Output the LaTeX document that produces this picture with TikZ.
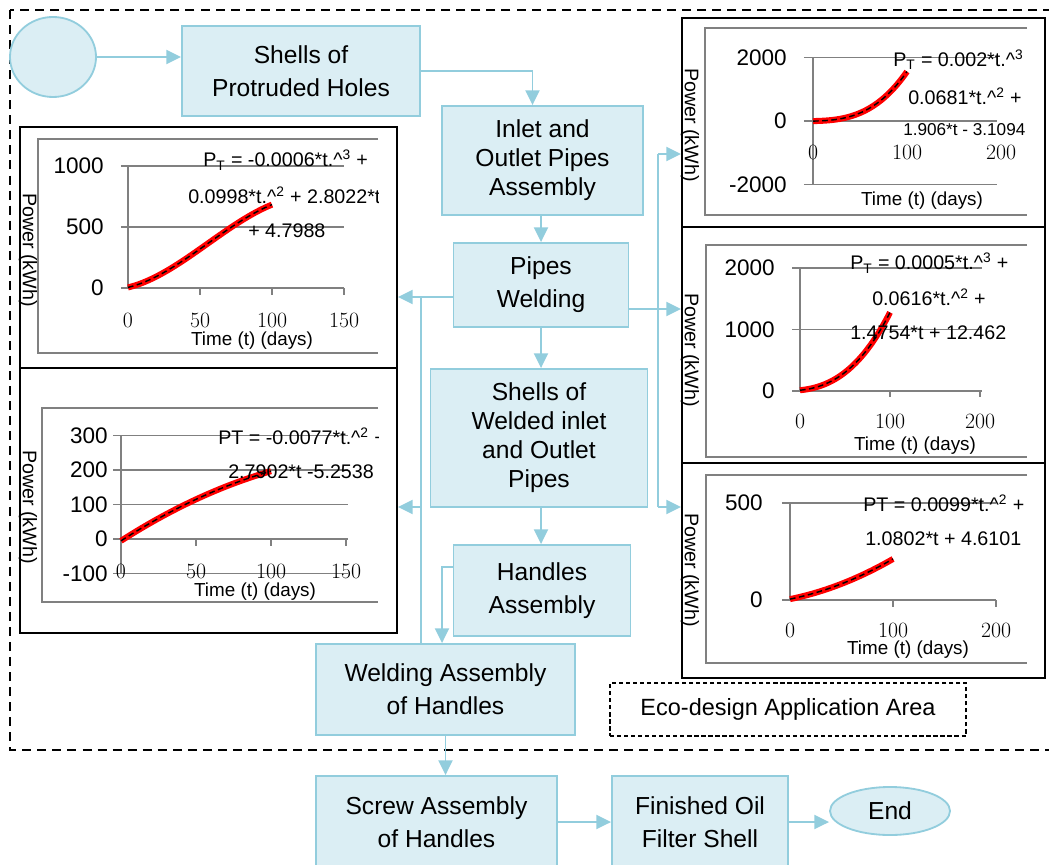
\documentclass[tikz,border=0pt]{standalone}
\usepackage{fontspec}
\setsansfont{Liberation Sans}
\renewcommand{\familydefault}{\sfdefault}
\usetikzlibrary{arrows.meta,shapes.geometric}

\definecolor{boxfill}{RGB}{219,238,244}
\definecolor{boxline}{RGB}{146,205,221}
\definecolor{gridgray}{RGB}{128,128,128}

\newcommand{\boxfont}{\fontsize{17.5}{20.6}\selectfont}
\newcommand{\ecofont}{\fontsize{16.7}{18}\selectfont}
\newcommand{\tickfont}{\fontsize{16}{16}\selectfont}
\newcommand{\eqfont}{\fontsize{14}{14}\selectfont}
\newcommand{\axfont}{\fontsize{13.4}{14}\selectfont}
\newcommand{\numfont}{\rmfamily\fontsize{15.5}{15.5}\selectfont}
\newcommand{\car}{\textasciicircum}

\tikzset{
  procbox/.style={draw=boxline, fill=boxfill, line width=1.3pt, align=center, font=\boxfont, inner sep=0pt},
  endcap/.style={ellipse, draw=boxline, fill=boxfill, line width=1.3pt, font=\boxfont, inner sep=0pt},
  flow/.style={draw=boxline, line width=1.3pt, -{Triangle[length=10.5pt,width=10pt]}},
  link/.style={draw=boxline, line width=1.3pt},
  chartbox/.style={draw=black, line width=1.3pt, inner sep=0pt, minimum width=9.1cm},
  plotline/.style={draw=gridgray, line width=1.2pt},
  fitred/.style={draw=red, line width=4.3pt},
  fitdash/.style={draw=black, line width=1pt, dash pattern=on 4pt off 2.5pt},
  ylab/.style={anchor=east, font=\tickfont, inner sep=0pt},
  xlab/.style={font=\numfont, inner sep=0pt},
  eqn/.style={anchor=west, font=\eqfont, inner sep=0pt},
  axname/.style={font=\axfont, inner sep=0pt},
  powname/.style={font=\fontsize{14}{14}\selectfont, rotate=-90, inner sep=0pt}
}

\begin{document}
\begin{tikzpicture}[x=0.025cm, y=-0.025cm]
\useasboundingbox (0,0) rectangle (1049,865);

% Eco-design area
\draw[line width=1.1pt, dash pattern=on 6.4pt off 4.3pt] (10,10) rectangle (1070,750);
\node[draw=black, line width=0.9pt, dash pattern=on 3pt off 2pt, minimum width=8.9cm, minimum height=1.325cm, font=\ecofont] (eco) at (788,709.5) {Eco-design Application Area};

% Chart frames
\node[chartbox, minimum width=9.425cm, minimum height=6.025cm] (chLA) at (208.5,247.5) {};
\node[chartbox, minimum width=9.425cm, minimum height=6.625cm] (chLB) at (208.5,500.5) {};
\node[chartbox, minimum width=9.075cm, minimum height=5.225cm] (chRA) at (863.5,122.5) {};
\node[chartbox, minimum width=9.075cm, minimum height=5.9cm] (chRB) at (863.5,345) {};
\node[chartbox, minimum width=9.075cm, minimum height=5.375cm] (chRC) at (863.5,570.5) {};

% Chart LA
\draw[plotline] (378,139) -| (38,353) -- (378,353);
\begin{scope}[shift={(128,288)}, x=0.036cm, y=0.00305cm]
  \draw[plotline] (-5,500) -- (150,500);
  \draw[plotline] (-5,1000) -- (150,1000);
  \draw[plotline] (0,0) -- (0,1000);
  \draw[plotline] (-5,0) -- (150,0);
  \foreach \t in {50,100,150} \draw[plotline] (\t,0) -- ++(0pt,-5pt);
  \foreach \v in {0,500,1000} \node[ylab] at ([xshift=-0.6cm]0,\v) {\v};
  \foreach \t in {0,50,100,150} \node[xlab] at ([yshift=-0.8cm]\t,0) {\t};
  \draw[fitred] plot[domain=0:1, samples=30, smooth] ({100*\x},{-600*\x^3+998*\x^2+280.22*\x+4.7988});
  \draw[fitdash] plot[domain=0:1, samples=30, smooth] ({100*\x},{-600*\x^3+998*\x^2+280.22*\x+4.7988});
\end{scope}
\node[axname] (tLA) at (252,341) {Time (t) (days)};
\node[powname] (pLA) at (28,250) {Power (kWh)};
\begin{scope}
  \clip (38,139) rectangle (378,353);
  \node[eqn] at (203,160) {P\textsubscript{T} = -0.0006*t.\car\textsuperscript{3} +};
  \node[eqn] at (188,195) {0.0998*t.\car\textsuperscript{2} + 2.8022*t};
  \node[eqn] at (248,231) {+ 4.7988};
\end{scope}

% Chart LB
\draw[plotline] (378,408) -| (42,602) -- (378,602);
\begin{scope}[shift={(121,539)}, x=0.0375cm, y=0.008625cm]
  \foreach \v in {-100,100,200,300} \draw[plotline] (-5.3,\v) -- (151,\v);
  \draw[plotline] (0,-100) -- (0,300);
  \draw[plotline] (-5.3,0) -- (151,0);
  \foreach \t in {50,100,150} \draw[plotline] (\t,0) -- ++(0pt,-5pt);
  \foreach \v in {-100,0,100,200,300} \node[ylab] at ([xshift=-0.325cm]0,\v) {\v};
  \foreach \t in {0,50,100,150} \node[xlab] at ([yshift=-0.8cm]\t,0) {\t};
  \draw[fitred] plot[domain=0:1, samples=30, smooth] ({100*\x},{-77*\x^2+279.02*\x-5.2538});
  \draw[fitdash] plot[domain=0:1, samples=30, smooth] ({100*\x},{-77*\x^2+279.02*\x-5.2538});
\end{scope}
\node[axname] (tLB) at (255,592) {Time (t) (days)};
\node[powname] (pLB) at (28,507) {Power (kWh)};
\begin{scope}
  \clip (42,408) rectangle (378,602);
  \node[eqn] at (218,436) {PT = -0.0077*t.\car\textsuperscript{2} +};
  \node[eqn] at (228,472) {2.7902*t -5.2538};
\end{scope}

% Chart RA
\draw[plotline] (1027,28) -| (705,215) -- (1027,215);
\begin{scope}[shift={(813,121)}, x=0.0235cm, y=0.0008cm]
  \draw[plotline] (-9.6,2000) -- (196,2000);
  \draw[plotline] (-9.6,-2000) -- (196,-2000);
  \draw[plotline] (-9.6,0) -- (196,0);
  \draw[plotline] (0,-2000) -- (0,2000);
  \foreach \v in {-2000,0,2000} \node[ylab] at ([xshift=-0.65cm]0,\v) {\v};
  \foreach \t in {0,100,200} \node[xlab] at ([yshift=-0.775cm]\t,0) {\t};
  \draw[fitred] plot[domain=0:1, samples=30, smooth] ({100*\x},{1200*\x^3+300*\x^2+62*\x-3.1094});
  \draw[fitdash] plot[domain=0:1, samples=30, smooth] ({100*\x},{1200*\x^3+300*\x^2+62*\x-3.1094});
\end{scope}
\node[axname] (tRA) at (922,201) {Time (t) (days)};
\node[powname] (pRA) at (690,125) {Power (kWh)};
\begin{scope}
  \clip (705,28) rectangle (1027,215);
  \node[eqn] at (893,60) {P\textsubscript{T} = 0.002*t.\car\textsuperscript{3} +};
  \node[eqn] at (908,96) {0.0681*t.\car\textsuperscript{2} +};
  \node[eqn, font=\fontsize{12.2}{13}\selectfont] at (903,130) {1.906*t - 3.1094};
\end{scope}

% Chart RB
\draw[plotline] (1027,245) -| (706,457) -- (1027,457);
\begin{scope}[shift={(800,391)}, x=0.0225cm, y=0.0015375cm]
  \draw[plotline] (-8.9,1000) -- (202,1000);
  \draw[plotline] (-8.9,2000) -- (202,2000);
  \draw[plotline] (-8.9,0) -- (202,0);
  \draw[plotline] (0,0) -- (0,2000);
  \foreach \t in {100,200} \draw[plotline] (\t,0) -- ++(0pt,-4.5pt);
  \foreach \v in {0,1000,2000} \node[ylab] at ([xshift=-0.625cm]0,\v) {\v};
  \foreach \t in {0,100,200} \node[xlab] at ([yshift=-0.77cm]\t,0) {\t};
  \draw[fitred] plot[domain=0:1, samples=30, smooth] ({100*\x},{500*\x^3+616*\x^2+147.54*\x+12.462});
  \draw[fitdash] plot[domain=0:1, samples=30, smooth] ({100*\x},{500*\x^3+616*\x^2+147.54*\x+12.462});
\end{scope}
\node[axname] (tRB) at (915,446) {Time (t) (days)};
\node[powname] (pRB) at (690,350) {Power (kWh)};
\begin{scope}
  \clip (706,245) rectangle (1027,457);
  \node[eqn] at (850,263) {P\textsubscript{T} = 0.0005*t.\car\textsuperscript{3} +};
  \node[eqn] at (872,297) {0.0616*t.\car\textsuperscript{2} +};
  \node[eqn] at (850,333) {1.4754*t + 12.462};
\end{scope}

% Chart RC
\draw[plotline] (1027,475) -| (706,663) -- (1027,663);
\begin{scope}[shift={(790,600)}, x=0.02575cm, y=0.00485cm]
  \draw[plotline] (-7.8,500) -- (200,500);
  \draw[plotline] (-7.8,0) -- (200,0);
  \draw[plotline] (0,0) -- (0,500);
  \foreach \t in {100,200} \draw[plotline] (\t,0) -- ++(0pt,-5pt);
  \foreach \v in {0,500} \node[ylab] at ([xshift=-0.675cm]0,\v) {\v};
  \foreach \t in {0,100,200} \node[xlab] at ([yshift=-0.77cm]\t,0) {\t};
  \draw[fitred] plot[domain=0:1, samples=30, smooth] ({100*\x},{99*\x^2+108.02*\x+4.6101});
  \draw[fitdash] plot[domain=0:1, samples=30, smooth] ({100*\x},{99*\x^2+108.02*\x+4.6101});
\end{scope}
\node[axname] (tRC) at (908,650) {Time (t) (days)};
\node[powname] (pRC) at (690,570) {Power (kWh)};
\begin{scope}
  \clip (706,475) rectangle (1027,663);
  \node[eqn] at (863,503) {PT = 0.0099*t.\car\textsuperscript{2} +};
  \node[eqn] at (865,539) {1.0802*t + 4.6101};
\end{scope}

% Process steps
\node[endcap, minimum width=2.15cm, minimum height=2cm] (start) at (53,57) {};
\node[procbox, minimum width=5.95cm, minimum height=2.25cm] (prot) at (301,71) {Shells of\\[2.8pt]Protruded Holes};
\node[procbox, minimum width=5.025cm, minimum height=2.725cm] (inlet) at (542.5,160.5) {Inlet and\\Outlet Pipes\\Assembly};
\node[procbox, minimum width=4.375cm, minimum height=2.1cm] (pweld) at (541,285) {Pipes\\[2.8pt]Welding};
\node[procbox, minimum width=5.425cm, minimum height=3.45cm] (shw) at (539,438) {Shells of\\Welded inlet\\and Outlet\\Pipes};
\node[procbox, minimum width=4.425cm, minimum height=2.275cm] (hand) at (542,590.5) {Handles\\[2.8pt]Assembly};
\node[procbox, minimum width=6.475cm, minimum height=2.275cm] (wah) at (445.5,689.5) {Welding Assembly\\[2.8pt]of Handles};
\node[procbox, minimum width=6.025cm, minimum height=2.3cm] (screw) at (436.5,822) {Screw Assembly\\[2.8pt]of Handles};
\node[procbox, minimum width=4.4cm, minimum height=2.3cm] (fin) at (700,822) {Finished Oil\\[2.8pt]Filter Shell};
\node[endcap, minimum width=3cm, minimum height=1.2cm] (stop) at (890,811) {End};

% Junctions
\coordinate (jl) at (421,297);
\coordinate (jl2) at (421,507);
\coordinate (jr) at (658,154);
\coordinate (jrm) at (658,309);
\coordinate (jr2) at (658,507);
\coordinate (jh) at (442,567);

% Connectors
\draw[flow] (start.east) -- (start.east -| prot.west);
\draw[flow] (prot.east) -| ([xshift=-0.25cm]inlet.north);
\draw[flow] (pweld.north |- inlet.south) -- (pweld.north);
\draw[flow] (pweld.south) -- (pweld.south |- shw.north);
\draw[flow] (pweld.south |- shw.south) -- (pweld.south |- hand.north);
\draw[flow] (jl -| pweld.west) -- (jl -| chLA.east);
\draw[link] (jl) -- (jl |- wah.north);
\draw[flow] (jl2) -- (jl2 -| chLB.east);
\draw[flow] (jrm -| pweld.east) -- (jrm -| chRB.west);
\draw[link] (jr) -- (jr2);
\draw[flow] (jr) -- (jr -| chRA.west);
\draw[flow] (jr2) -- (jr2 -| chRC.west);
\draw[flow] (jh -| hand.west) -- (jh) -- (jh |- wah.north);
\draw[flow] (wah.south) -- (wah.south |- screw.north);
\draw[flow] (screw.east) -- (fin.west);
\draw[flow] (fin.east) -- (fin.east -| stop.west);
\end{tikzpicture}
\end{document}
